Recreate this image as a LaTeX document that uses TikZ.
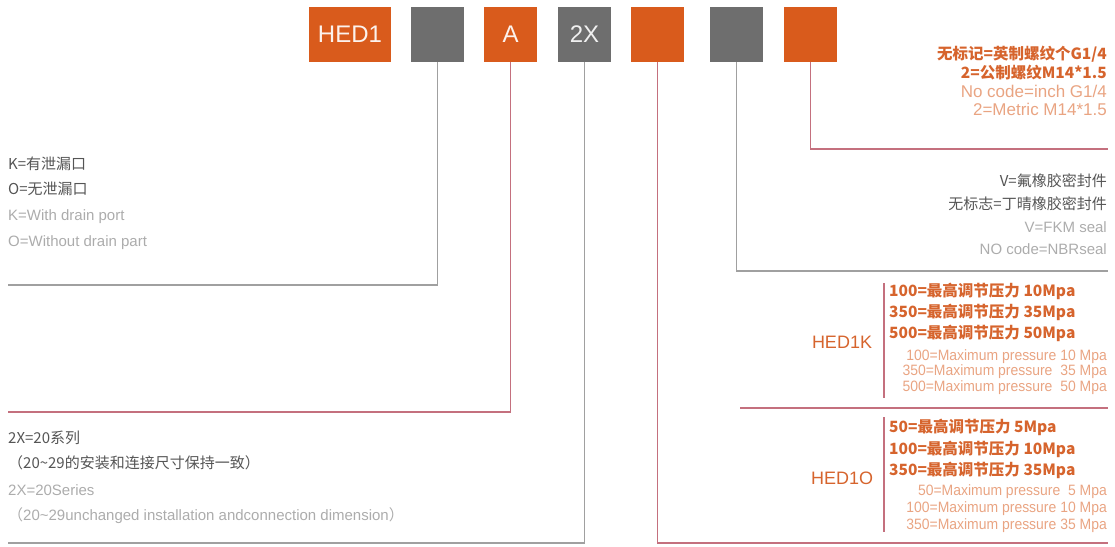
\documentclass[tikz,border=0pt]{standalone}
\usepackage{fontspec}
\setmainfont{Liberation Sans}
\newfontfamily\cjk{Noto Sans CJK SC}
\newfontfamily\narrowsans[FakeStretch=0.93]{Liberation Sans}
\usepackage{xcolor}
\usetikzlibrary{positioning}

\definecolor{rust}{RGB}{217,91,28}
\definecolor{slate}{RGB}{110,110,110}
\definecolor{lineGrey}{RGB}{160,160,160}
\definecolor{lineRose}{RGB}{196,112,126}
\definecolor{darkText}{RGB}{85,85,85}
\definecolor{lightText}{RGB}{172,172,172}
\definecolor{rustText}{RGB}{214,100,45}
\definecolor{paleRust}{RGB}{233,164,130}

\begin{document}
\begin{tikzpicture}[
        x=1pt, y=-1pt,
        node distance=20pt,
        codebox/.style={minimum width=53pt, minimum height=55pt, inner sep=0pt, outer sep=0pt, font=\fontsize{24}{24}\selectfont},
        orangebox/.style={codebox, fill=rust, text=white!92!rust},
        greybox/.style={codebox, fill=slate, text=white!90!slate},
        greyline/.style={draw=lineGrey, line width=1.2pt},
        roseline/.style={draw=lineRose, line width=1.2pt},
        cnDark/.style={inner sep=0pt, text=darkText, font=\cjk\fontsize{15}{15}\selectfont},
        enLight/.style={inner sep=0pt, text=lightText, font=\fontsize{15}{15}\selectfont},
        cnOrange/.style={inner sep=0pt, text=rustText, font=\cjk\bfseries\fontsize{15.5}{15.5}\selectfont},
        enOrange/.style={inner sep=0pt, text=paleRust, font=\narrowsans\fontsize{15}{15}\selectfont},
        modelLabel/.style={inner sep=0pt, text=rustText, font=\fontsize{18}{18}\selectfont}
    ]
        \useasboundingbox (0,0) rectangle (1115,546);

        % Code boxes
        \node (hed) [orangebox, minimum width=82pt, anchor=north west] at (309,7) {HED1};
        \node (drain) [greybox, right=of hed] {};
        \node (design) [orangebox, right=of drain] {A};
        \node (series) [greybox, right=21pt of design] {2X};
        \node (pressure) [orangebox, right=of series] {};
        \node (seal) [greybox, right=26pt of pressure] {};
        \node (thread) [orangebox, right=21pt of seal] {};

        % Leader ends
        \coordinate (drainEnd) at (8,285);
        \coordinate (designEnd) at (8,412);
        \coordinate (seriesEnd) at (8,543);
        \coordinate (pressureEnd) at (1108,543);
        \coordinate (sealEnd) at (1108,271);
        \coordinate (threadEnd) at (1108,149);

        \draw [greyline] (drain.south) |- (drainEnd);
        \draw [roseline] (design.south) |- (designEnd);
        \draw [greyline] (series.south) |- (seriesEnd);
        \draw [roseline] (pressure.south) |- (pressureEnd);
        \draw [greyline] (seal.south) |- (sealEnd);
        \draw [roseline] (thread.south) |- (threadEnd);

        % Pressure split
        \coordinate (splitL) at (740,408);
        \coordinate (splitR) at (1108,408);
        \draw [roseline] (splitL) -- (splitR);
        \coordinate (kTop) at (884,283);
        \coordinate (kBot) at (884,398);
        \coordinate (oTop) at (884,417);
        \coordinate (oBot) at (884,532);
        \draw [roseline] (kTop) -- (kBot);
        \draw [roseline] (oTop) -- (oBot);

        % Drain port
        \node (drainK) [cnDark, anchor=west] at (8,164) {K=有泄漏口};
        \node (drainO) [cnDark, anchor=west] at (8,189) {O=无泄漏口};
        \node (drainKen) [enLight, anchor=west] at (8,217) {K=With drain port};
        \node (drainOen) [enLight, anchor=west] at (8,243) {O=Without drain part};

        % Series
        \node (seriesCn) [cnDark, anchor=west] at (8,438) {2X=20系列};
        \node (seriesCnNote) [cnDark, anchor=west] at (8,463) {（20\textasciitilde29的安装和连接尺寸保持一致）};
        \node (seriesEn) [enLight, anchor=west] at (8,490) {2X=20Series};
        \node (seriesEnNote) [enLight, anchor=west] at (8,516) {{\cjk （}20\textasciitilde29unchanged installation andconnection dimension{\cjk ）}};

        % Thread
        \node (threadCn1) [cnOrange, anchor=east] at (1107,54) {无标记=英制螺纹个G1/4};
        \node (threadCn2) [cnOrange, anchor=east] at (1107,73) {2=公制螺纹M14*1.5};
        \node (threadEn1) [enOrange, font=\fontsize{17}{17}\selectfont, anchor=east] at (1107,91) {No code=inch G1/4};
        \node (threadEn2) [enOrange, font=\fontsize{17}{17}\selectfont, anchor=east] at (1107,109) {2=Metric M14*1.5};

        % Seal
        \node (sealCn1) [cnDark, anchor=east] at (1107,181) {V=氟橡胶密封件};
        \node (sealCn2) [cnDark, anchor=east] at (1107,204) {无标志=丁晴橡胶密封件};
        \node (sealEn1) [enLight, anchor=east] at (1107,227) {V=FKM seal};
        \node (sealEn2) [enLight, anchor=east] at (1107,249) {NO code=NBRseal};

        % HED1K pressures
        \node (kLabel) [modelLabel] at (842,342) {HED1K};
        \node (k100) [cnOrange, anchor=west] at (889,291) {100=最高调节压力 10Mpa};
        \node (k350) [cnOrange, anchor=west] at (889,312) {350=最高调节压力 35Mpa};
        \node (k500) [cnOrange, anchor=west] at (889,333) {500=最高调节压力 50Mpa};
        \node (k100en) [enOrange, anchor=east] at (1107,357) {100=Maximum pressure 10 Mpa};
        \node (k350en) [enOrange, anchor=east] at (1107,372) {350=Maximum pressure\ \ 35 Mpa};
        \node (k500en) [enOrange, anchor=east] at (1107,388) {500=Maximum pressure\ \ 50 Mpa};

        % HED1O pressures
        \node (oLabel) [modelLabel] at (842,478) {HED1O};
        \node (o50) [cnOrange, anchor=west] at (889,427) {50=最高调节压力 5Mpa};
        \node (o100) [cnOrange, anchor=west] at (889,449) {100=最高调节压力 10Mpa};
        \node (o350) [cnOrange, anchor=west] at (889,470) {350=最高调节压力 35Mpa};
        \node (o50en) [enOrange, anchor=east] at (1107,492) {50=Maximum pressure\ \ 5 Mpa};
        \node (o100en) [enOrange, anchor=east] at (1107,509) {100=Maximum pressure 10 Mpa};
        \node (o350en) [enOrange, anchor=east] at (1107,526) {350=Maximum pressure 35 Mpa};

    \end{tikzpicture}
\end{document}
